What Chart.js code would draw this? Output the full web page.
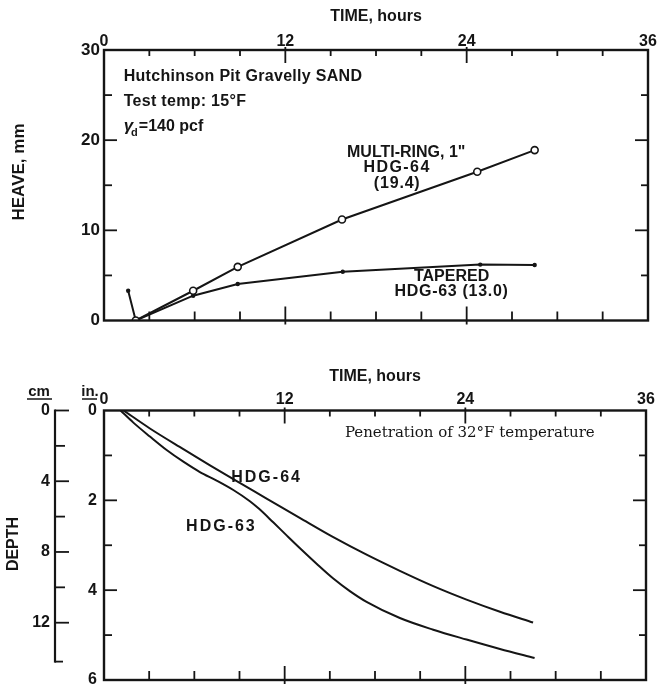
<!DOCTYPE html>
<html>
<head>
<meta charset="utf-8">
<script src="https://cdn.jsdelivr.net/npm/chart.js@4.4.1/dist/chart.umd.min.js"></script>
<style>
  html, body { margin: 0; padding: 0; background: #fff; }
  #wrap { position: relative; width: 659px; height: 685px; }
  canvas { position: absolute; left: 0; }
  #heaveChart { top: 0; }
  #depthChart { top: 335px; }
</style>
</head>
<body>
<div id="wrap">
  <canvas id="heaveChart" width="659" height="335"></canvas>
  <canvas id="depthChart" width="659" height="350"></canvas>
</div>
<script>
// top panel: heave vs time
const hourTicks = [0, 12, 24, 36];
const heaveTicks = [0, 10, 20, 30];
const ringTime = [2.1, 5.9, 8.85, 15.75, 24.7, 28.5];
const ringHeave = [0, 3.3, 5.95, 11.2, 16.5, 18.9];
const taperTime = [1.6, 2.1, 5.9, 8.85, 15.8, 24.9, 28.5];
const taperHeave = [3.3, 0, 2.75, 4.05, 5.4, 6.2, 6.15];

// bottom panel: depth of 32F front vs time
const depthInTicks = [0, 2, 4, 6];
const depthCmTicks = [0, 4, 8, 12];
const hdg64Time = [1.3, 3.05, 5.27, 7.04, 8.59, 10.8, 13.0, 15.23, 17.44, 19.65, 21.87, 24.08, 26.3, 28.5];
const hdg64Depth = [0, 0.4, 0.86, 1.22, 1.53, 1.96, 2.39, 2.82, 3.21, 3.57, 3.91, 4.21, 4.48, 4.72];
const hdg63Time = [1.1, 1.95, 3.05, 4.16, 5.27, 6.37, 7.48, 8.59, 9.69, 10.3, 11.24, 12.13, 13.0, 14.12, 15.23, 16.33, 17.44, 19.65, 21.87, 24.08, 26.3, 28.6];
const hdg63Depth = [0, 0.27, 0.58, 0.88, 1.14, 1.37, 1.56, 1.77, 2.02, 2.19, 2.49, 2.78, 3.06, 3.41, 3.74, 4.02, 4.26, 4.62, 4.88, 5.1, 5.31, 5.51];

const ink = '#151515';
const fam = '"Liberation Sans", Arial, sans-serif';
const pts = (xs, ys) => xs.map((x, i) => ({x, y: ys[i]}));
const boldFont = size => ({family: fam, size: size, weight: 'bold'});

// frame with inward ticks, plus the free text on each panel
const frame = {
  id: 'frame',
  afterDraw(chart, args, o) {
    const ctx = chart.ctx;
    const {left, right, top, bottom} = chart.chartArea;
    const xs = chart.scales.x, ys = chart.scales.y;
    const seg = (x1, y1, x2, y2) => { ctx.beginPath(); ctx.moveTo(x1, y1); ctx.lineTo(x2, y2); ctx.stroke(); };
    ctx.save();
    ctx.strokeStyle = ink;
    ctx.lineWidth = 2.4;
    ctx.strokeRect(left, top, right - left, bottom - top);
    ctx.lineWidth = 1.8;
    for (let v = o.xStep; v < xs.max; v += o.xStep) {
      const px = xs.getPixelForValue(v);
      const big = v % o.xMajor === 0;
      seg(px, top - (big ? 3 : 0), px, top + (big ? 13 : 6));
      seg(px, bottom + (big ? 4 : 0), px, bottom - (big ? 14 : 9));
    }
    for (let v = o.yStep; v < ys.max; v += o.yStep) {
      const py = ys.getPixelForValue(v);
      const big = v % o.yMajor === 0;
      seg(left, py, left + (big ? 13 : 8), py);
      seg(right, py, right - (big ? 13 : 7), py);
    }
    ctx.fillStyle = ink;
    ctx.textBaseline = 'middle';
    o.notes.forEach(n => {
      ctx.font = n.font;
      ctx.letterSpacing = (n.spacing || 0) + 'px';
      ctx.textAlign = n.align || 'center';
      ctx.fillText(n.text, xs.getPixelForValue(n.x), ys.getPixelForValue(n.y));
    });
    ctx.letterSpacing = '0px';
    o.extra(ctx, chart);
    ctx.restore();
  }
};

const vTitle = (ctx, text, x, y, font) => {
  ctx.save();
  ctx.translate(x, y);
  ctx.rotate(-Math.PI / 2);
  ctx.font = font;
  ctx.textAlign = 'center';
  ctx.textBaseline = 'middle';
  ctx.fillText(text, 0, 0);
  ctx.restore();
};

new Chart(document.getElementById('heaveChart'), {
  type: 'line',
  data: {
    datasets: [
      {
        label: 'MULTI-RING HDG-64',
        data: pts(ringTime, ringHeave),
        borderColor: ink, borderWidth: 2, tension: 0,
        pointRadius: 3.5, pointBackgroundColor: '#fff', pointBorderColor: ink, pointBorderWidth: 1.6
      },
      {
        label: 'TAPERED HDG-63',
        data: pts(taperTime, taperHeave),
        borderColor: ink, borderWidth: 2, tension: 0,
        pointRadius: 2.2, pointBackgroundColor: ink, pointBorderWidth: 0
      }
    ]
  },
  options: {
    responsive: false,
    animation: false,
    layout: {padding: {left: 0, top: 0, right: 11, bottom: 14.5}},
    plugins: {
      legend: {display: false},
      tooltip: {enabled: false},
      frame: {
        xStep: 3, xMajor: 12, yStep: 5, yMajor: 10,
        notes: [
          {text: 'Hutchinson Pit Gravelly SAND', x: 1.3, y: 27.0, align: 'left', font: 'bold 16px ' + fam, spacing: 0.3},
          {text: 'Test temp: 15°F', x: 1.3, y: 24.3, align: 'left', font: 'bold 16px ' + fam, spacing: 0.3},
          {text: 'MULTI-RING, 1"', x: 20.0, y: 18.6, font: 'bold 16px ' + fam},
          {text: 'HDG-64', x: 19.4, y: 17.0, font: 'bold 16px ' + fam, spacing: 1.4},
          {text: '(19.4)', x: 19.4, y: 15.2, font: 'bold 16px ' + fam, spacing: 0.8},
          {text: 'TAPERED', x: 23.0, y: 4.9, font: 'bold 16px ' + fam},
          {text: 'HDG-63 (13.0)', x: 23.0, y: 3.2, font: 'bold 16px ' + fam, spacing: 0.7}
        ],
        extra(ctx, chart) {
          const xs = chart.scales.x, ys = chart.scales.y;
          const gx = xs.getPixelForValue(1.3), gy = ys.getPixelForValue(21.5);
          ctx.textAlign = 'left';
          ctx.font = 'italic bold 17px ' + fam;
          ctx.fillText('γ', gx, gy);
          let w = ctx.measureText('γ').width;
          ctx.font = 'bold 11px ' + fam;
          ctx.fillText('d', gx + w - 2, gy + 6);
          w += ctx.measureText('d').width - 2;
          ctx.font = 'bold 16px ' + fam;
          ctx.fillText('=140 pcf', gx + w + 1, gy);
          vTitle(ctx, 'HEAVE, mm', 19, 172, 'bold 17px ' + fam);
        }
      }
    },
    scales: {
      x: {
        type: 'linear', position: 'top', min: 0, max: 36,
        afterBuildTicks: s => { s.ticks = hourTicks.map(v => ({value: v})); },
        afterFit: s => { s.height = 50; s.paddingLeft = 0; s.paddingRight = 0; },
        grid: {display: false, drawTicks: false},
        border: {display: false},
        ticks: {color: ink, font: boldFont(16), padding: -1, maxRotation: 0},
        title: {display: true, text: 'TIME, hours', color: ink, font: boldFont(16), padding: {top: 7}}
      },
      y: {
        type: 'linear', position: 'left', min: 0, max: 30,
        afterBuildTicks: s => { s.ticks = heaveTicks.map(v => ({value: v})); },
        afterFit: s => { s.width = 104; s.paddingTop = 0; s.paddingBottom = 0; },
        grid: {display: false, drawTicks: false},
        border: {display: false},
        ticks: {color: ink, font: boldFont(17), padding: 4}
      }
    }
  },
  plugins: [frame]
});

new Chart(document.getElementById('depthChart'), {
  type: 'line',
  data: {
    datasets: [
      {
        label: 'HDG-64',
        data: pts(hdg64Time, hdg64Depth),
        borderColor: ink, borderWidth: 2, pointRadius: 0,
        tension: 0.4, cubicInterpolationMode: 'monotone'
      },
      {
        label: 'HDG-63',
        data: pts(hdg63Time, hdg63Depth),
        borderColor: ink, borderWidth: 2, pointRadius: 0,
        tension: 0.4, cubicInterpolationMode: 'monotone'
      }
    ]
  },
  options: {
    responsive: false,
    animation: false,
    layout: {padding: {left: 0, top: 0, right: 13, bottom: 5}},
    plugins: {
      legend: {display: false},
      tooltip: {enabled: false},
      frame: {
        xStep: 3, xMajor: 12, yStep: 1, yMajor: 2,
        notes: [
          {text: 'Penetration of 32°F temperature', x: 16.0, y: 0.5, align: 'left', font: '15px "DejaVu Serif", serif'},
          {text: 'HDG-64', x: 10.8, y: 1.5, font: 'bold 16px ' + fam, spacing: 2},
          {text: 'HDG-63', x: 7.8, y: 2.59, font: 'bold 16px ' + fam, spacing: 2}
        ],
        extra(ctx, chart) {
          const cm = chart.scales.ycm;
          const lx = cm.right;
          const seg = (x1, y1, x2, y2) => { ctx.beginPath(); ctx.moveTo(x1, y1); ctx.lineTo(x2, y2); ctx.stroke(); };
          ctx.lineWidth = 2.2;
          seg(lx, cm.getPixelForValue(0) - 1, lx, cm.getPixelForValue(14.2) + 1);
          ctx.lineWidth = 1.8;
          for (let v = 0; v <= 12; v += 2) {
            const py = cm.getPixelForValue(v);
            seg(lx, py, lx + (v % 4 === 0 ? 14 : 10), py);
          }
          seg(lx, cm.getPixelForValue(14.2), lx + 8, cm.getPixelForValue(14.2));
          ctx.font = 'bold 15px ' + fam;
          ctx.textAlign = 'center';
          ctx.fillText('cm', 39, 57);
          ctx.fillText('in.', 90, 57);
          ctx.lineWidth = 1.5;
          seg(27, 64, 52, 64);
          seg(82, 64, 97, 64);
          vTitle(ctx, 'DEPTH', 14, 209, 'bold 16px ' + fam);
        }
      }
    },
    scales: {
      x: {
        type: 'linear', position: 'top', min: 0, max: 36,
        afterBuildTicks: s => { s.ticks = hourTicks.map(v => ({value: v})); },
        afterFit: s => { s.height = 75.5; s.paddingLeft = 0; s.paddingRight = 0; },
        grid: {display: false, drawTicks: false},
        border: {display: false},
        ticks: {color: ink, font: boldFont(16), padding: 1, maxRotation: 0},
        title: {display: true, text: 'TIME, hours', color: ink, font: boldFont(16), padding: {top: 32}}
      },
      y: {
        type: 'linear', position: 'left', min: 0, max: 6, reverse: true, weight: 0,
        afterBuildTicks: s => { s.ticks = depthInTicks.map(v => ({value: v})); },
        afterFit: s => { s.width = 49; s.paddingTop = 0; s.paddingBottom = 0; },
        grid: {display: false, drawTicks: false},
        border: {display: false},
        ticks: {color: ink, font: boldFont(16), padding: 7}
      },
      ycm: {
        type: 'linear', position: 'left', min: 0, max: 6 * 2.54, reverse: true, weight: 1,
        afterBuildTicks: s => { s.ticks = depthCmTicks.map(v => ({value: v})); },
        afterFit: s => { s.width = 55; s.paddingTop = 0; s.paddingBottom = 0; },
        grid: {display: false, drawTicks: false},
        border: {display: false},
        ticks: {color: ink, font: boldFont(16), padding: 5}
      }
    }
  },
  plugins: [frame]
});
</script>
</body>
</html>
